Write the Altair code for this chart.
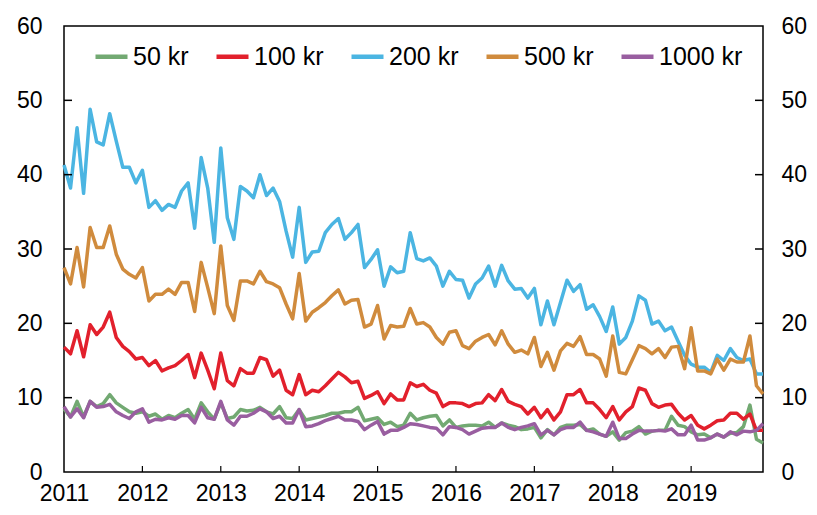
import altair as alt
import pandas as pd

series_names = ["50 kr", "100 kr", "200 kr", "500 kr", "1000 kr"]
colors = ["#72a972", "#e2202c", "#4bb5e2", "#d08b3d", "#995ea0"]

# monthly observations, Jan 2011 .. Dec 2019
kr50 = [8.5, 7.4, 9.5, 7.4, 9.5, 8.8, 9.2, 10.4, 9.3, 8.7, 8.1, 7.9, 8.1, 7.5, 7.8, 7.1, 7.6, 7.3, 7.9, 8.4, 7.1, 9.3, 8.1, 7.1, 9.3, 7.2, 7.4,
        8.4, 8.2, 8.3, 8.7, 8.1, 7.8, 8.8, 7.3, 7.2, 8.4, 7.0, 7.2, 7.4, 7.6, 7.9, 7.9, 8.1, 8.1, 8.7, 6.9, 7.1, 7.3, 6.4, 6.7, 6.1, 6.3,
        7.9, 7.0, 7.3, 7.5, 7.6, 6.2, 7.0, 6.0, 6.2, 6.3, 6.3, 6.2, 6.7, 6.0, 6.6, 6.3, 6.1, 5.7, 5.8, 6.0, 4.6, 5.7, 5.0, 6.0, 6.3, 6.3,
        6.4, 5.6, 5.8, 5.1, 4.8, 5.4, 4.3, 5.3, 5.5, 6.1, 5.1, 5.5, 5.6, 5.6, 7.5, 6.3, 6.1, 5.4, 5.0, 5.1, 4.6, 5.1, 4.7, 5.2, 5.3, 6.1, 9.0, 4.4, 3.9]
kr100 = [16.8, 15.9, 19.0, 15.5, 19.8, 18.5, 19.5, 21.5, 18.1, 16.9, 16.2, 15.2, 15.4, 14.3, 15.0, 13.6, 14.0, 14.3, 15.0, 15.8, 12.7, 16.0, 13.7, 11.2, 16.0, 12.3, 11.6,
         13.9, 13.3, 13.3, 15.4, 15.1, 12.9, 13.7, 11.0, 10.4, 13.1, 10.4, 11.0, 10.8, 11.6, 12.5, 13.4, 12.8, 12.0, 12.2, 9.9, 10.3, 10.8, 9.2, 10.5, 9.7, 9.7,
         12.0, 11.5, 11.8, 11.0, 10.6, 8.8, 9.3, 9.3, 9.2, 8.8, 9.2, 9.3, 10.4, 9.6, 11.1, 9.5, 9.1, 8.8, 7.8, 8.7, 7.3, 8.4, 7.0, 8.1, 10.4, 10.4,
         11.1, 9.3, 9.3, 8.4, 7.3, 8.8, 7.0, 8.1, 8.8, 11.3, 11.0, 9.2, 8.7, 9.0, 9.1, 7.9, 7.0, 7.6, 6.3, 5.8, 6.3, 6.9, 7.0, 7.9, 7.9, 7.1, 7.8, 5.6, 5.6]
kr200 = [41.3, 38.2, 46.3, 37.5, 48.8, 44.4, 44.0, 48.2, 44.5, 41.0, 41.0, 38.9, 40.6, 35.6, 36.5, 35.2, 36.0, 35.6, 37.8, 38.9, 32.8, 42.3, 38.2, 30.9, 43.6, 34.2, 31.3,
         38.4, 37.8, 36.9, 40.0, 37.2, 38.2, 36.4, 32.4, 28.9, 35.6, 28.2, 29.6, 29.7, 32.2, 33.3, 34.1, 31.3, 32.2, 33.3, 27.5, 28.6, 29.9, 25.0, 27.6, 26.8, 27.0,
         32.2, 28.7, 28.4, 28.8, 27.7, 25.0, 27.0, 25.9, 25.8, 23.4, 25.3, 26.1, 27.7, 25.0, 27.8, 25.7, 24.6, 24.7, 23.4, 24.7, 19.8, 23.0, 19.8, 22.8, 25.8, 24.3,
         25.2, 21.9, 22.5, 20.9, 18.9, 22.2, 17.2, 18.1, 20.3, 23.7, 23.1, 19.9, 20.3, 19.0, 19.5, 17.6, 15.7, 14.5, 14.1, 14.1, 13.4, 15.7, 15.0, 16.6, 15.4, 15.0, 15.2, 13.2, 13.2]
kr500 = [27.5, 25.3, 30.2, 24.9, 32.9, 30.2, 30.2, 33.1, 29.3, 27.3, 26.6, 26.1, 27.5, 23.0, 23.9, 23.9, 24.6, 23.9, 25.5, 25.5, 21.6, 28.2, 24.8, 21.3, 30.4, 22.4, 20.4,
         25.7, 25.7, 25.3, 27.0, 25.6, 25.3, 24.8, 22.6, 20.6, 26.7, 20.3, 21.5, 22.1, 22.8, 23.7, 24.5, 22.6, 23.1, 23.2, 19.5, 19.9, 22.4, 17.9, 19.7, 19.5, 19.6,
         22.0, 19.9, 20.1, 19.5, 18.1, 17.2, 18.8, 19.0, 17.0, 16.6, 17.6, 18.1, 18.5, 17.1, 19.0, 17.2, 16.1, 16.4, 15.9, 18.1, 14.2, 16.1, 13.7, 16.3, 17.3, 16.9,
         18.2, 15.8, 15.8, 15.2, 12.9, 18.3, 13.4, 13.2, 15.1, 17.0, 16.6, 15.9, 16.6, 15.4, 16.8, 16.9, 13.9, 19.4, 13.6, 13.6, 13.2, 15.2, 13.7, 15.2, 14.8, 14.8, 18.3, 11.6, 10.5]
kr1000 = [8.8, 7.4, 8.5, 7.3, 9.5, 8.7, 8.8, 9.1, 8.1, 7.6, 7.2, 8.1, 8.5, 6.7, 7.1, 7.0, 7.3, 7.1, 7.6, 7.6, 6.6, 8.7, 7.3, 7.1, 9.5, 7.0, 6.3,
          7.5, 7.5, 7.9, 8.5, 8.1, 7.2, 7.5, 6.6, 6.6, 8.4, 6.1, 6.2, 6.5, 6.9, 7.2, 7.5, 7.0, 7.0, 6.8, 5.7, 6.3, 6.8, 5.1, 5.6, 5.6, 6.0,
          6.5, 6.4, 6.2, 6.0, 5.9, 5.0, 6.1, 6.0, 5.7, 5.1, 5.5, 5.9, 6.0, 6.0, 6.6, 6.0, 5.7, 6.0, 6.2, 6.5, 5.0, 5.6, 5.0, 5.7, 6.0, 6.0,
          6.7, 5.6, 5.4, 5.1, 4.8, 6.7, 4.5, 4.5, 5.1, 5.6, 5.5, 5.5, 5.6, 5.5, 5.8, 5.0, 5.0, 6.3, 4.3, 4.3, 4.6, 5.1, 4.7, 5.4, 5.0, 5.5, 5.4, 5.6, 6.5]

year_ticks = [2011, 2012, 2013, 2014, 2015, 2016, 2017, 2018, 2019]
y_ticks = [0, 10, 20, 30, 40, 50, 60]

months = [2011 + i / 12 for i in range(len(kr50))]

rows = []
for name, vals in zip(series_names, [kr50, kr100, kr200, kr500, kr1000]):
    for m, v in zip(months, vals):
        rows.append({"date": m, "value": v, "series": name})
df = pd.DataFrame(rows)

W, H = 699, 446
FONT = "Liberation Sans"
FS = 23

x_scale = alt.Scale(domain=[months[0], months[-1]], nice=False, zero=False)
y_scale = alt.Scale(domain=[0, 60], nice=False)

x_axis = alt.Axis(values=year_ticks, format="d", title=None, grid=False, ticks=False,
                  tickSize=0, domain=False, labelPadding=10, labelFlush=False,
                  labelFontSize=FS, labelFont=FONT, labelColor="black")

lines = alt.Chart(df).mark_line(strokeWidth=3.5, strokeJoin="round").encode(
    x=alt.X("date:Q", scale=x_scale, axis=x_axis),
    y=alt.Y("value:Q", scale=y_scale,
            axis=alt.Axis(orient="left", values=y_ticks, title=None, grid=False, ticks=False,
                          tickSize=0, domain=False, labelPadding=22,
                          labelFontSize=FS, labelFont=FONT, labelColor="black")),
    color=alt.Color("series:N", sort=series_names,
                    scale=alt.Scale(domain=series_names, range=colors),
                    legend=alt.Legend(title=None, orient="none", legendX=29, legendY=12,
                                      direction="horizontal", columns=5, symbolType="stroke",
                                      symbolSize=1024, symbolStrokeWidth=4.5, labelFontSize=25,
                                      labelFont=FONT, labelColor="black", columnPadding=18,
                                      labelOffset=3)),
)

xt = alt.Chart(pd.DataFrame({"yr": year_ticks[1:]})).mark_rule(color="black", strokeWidth=1.2).encode(
    x=alt.X("yr:Q", scale=x_scale, axis=x_axis),
    y=alt.value(H),
    y2=alt.value(H - 6),
)

lt = alt.Chart(pd.DataFrame({"v": y_ticks[1:-1]})).mark_rule(color="black", strokeWidth=1.5).encode(
    y=alt.Y("v:Q", scale=y_scale, axis=None),
    x=alt.value(0),
    x2=alt.value(8),
)

rt = alt.Chart(pd.DataFrame({"v": y_ticks[1:-1]})).mark_rule(color="black", strokeWidth=1.5).encode(
    y=alt.Y("v:Q", scale=y_scale,
            axis=alt.Axis(orient="right", values=y_ticks, title=None, grid=False, ticks=False,
                          tickSize=0, domain=False, labelPadding=18,
                          labelFontSize=FS, labelFont=FONT, labelColor="black")),
    x=alt.value(W - 8),
    x2=alt.value(W),
)

chart = alt.layer(lines, xt, lt, rt).resolve_axis(y="independent").properties(
    width=W, height=H,
    padding={"left": 56, "top": 18, "right": 46, "bottom": 40},
    autosize=alt.AutoSizeParams(type="none"),
).configure_view(stroke="black", strokeWidth=1.5)

chart.save("out.html", embed_options={"renderer": "svg", "actions": False})
